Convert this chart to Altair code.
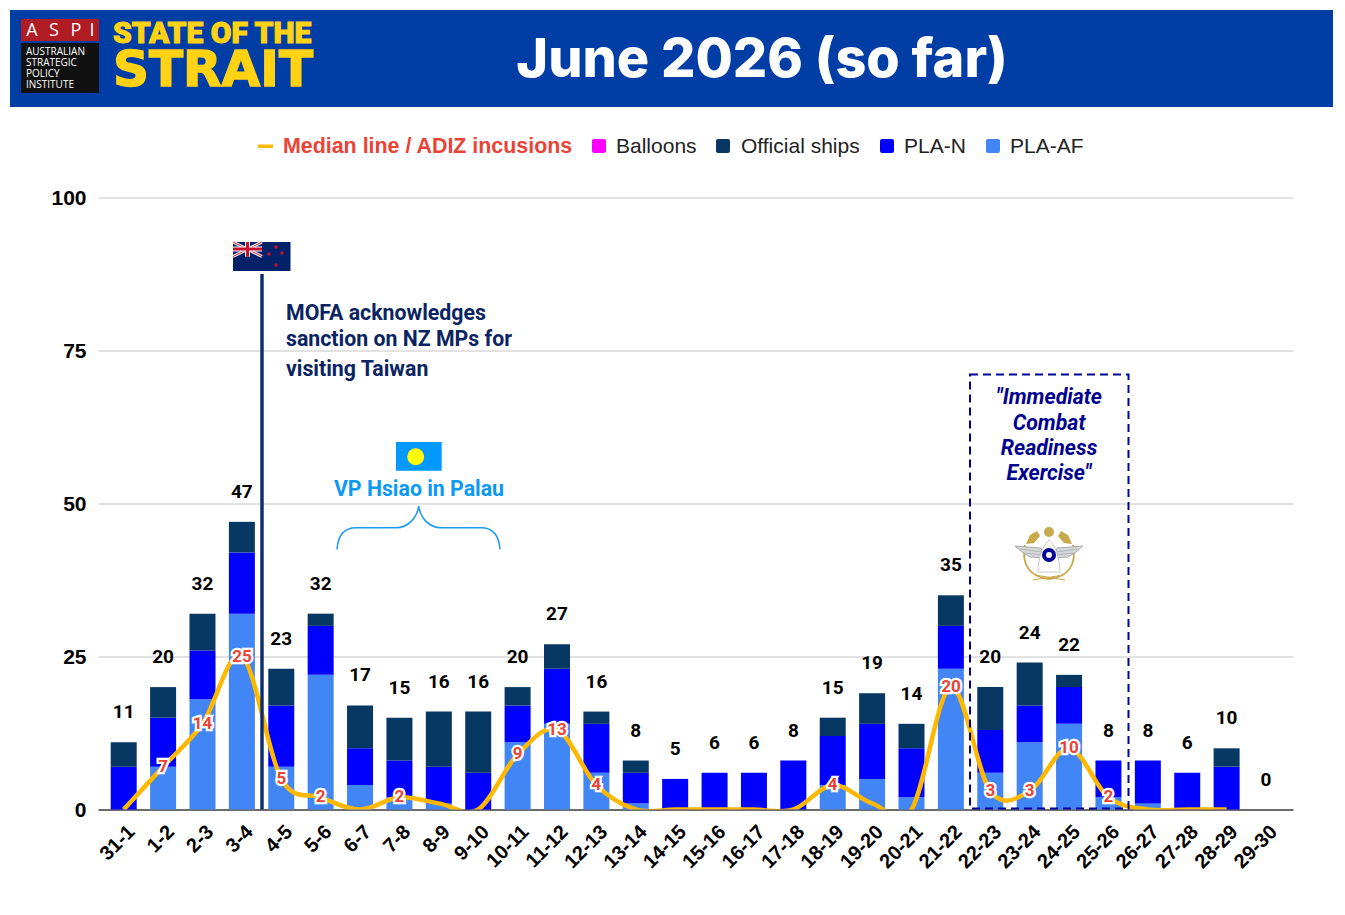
import altair as alt
import pandas as pd

CATEGORIES = ["31-1","1-2","2-3","3-4","4-5","5-6","6-7","7-8","8-9","9-10","10-11","11-12","12-13","13-14","14-15",
              "15-16","16-17","17-18","18-19","19-20","20-21","21-22","22-23","23-24","24-25","25-26","26-27","27-28","28-29","29-30"]
PLA_AF   = [0,7,18,32,7,22,4,2,1,0,11,14,6,1,0,0,0,0,4,5,2,23,6,11,14,2,1,0,0,0]
PLA_N    = [7,8,8,10,10,8,6,6,6,6,6,9,8,5,5,6,6,8,8,9,8,7,7,6,6,6,7,6,7,0]
OFFICIAL = [4,5,6,5,6,2,7,7,9,10,3,4,2,2,0,0,0,0,3,5,4,5,7,7,2,0,0,0,3,0]
TOTALS   = [11,20,32,47,23,32,17,15,16,16,20,27,16,8,5,6,6,8,15,19,14,35,20,24,22,8,8,6,10,0]
MEDIAN   = [0,7,14,25,5,2,0,2,1,0,9,13,4,0,0,0,0,0,4,1,0,20,3,3,10,2,0,0,0]

SERIES_COLORS = {"PLA-AF":"#4285F4","PLA-N":"#0000FF","Official ships":"#073763","Balloons":"#FF00FF"}
LINE_COLOR = "#FFB800"
RED = "#EA4335"
FONT = "Roboto"
SANS = "Liberation Sans"

OX, OY = 98, 197.5
W, H = 1195, 612
one = pd.DataFrame({"a":[0]})

def X(v): return alt.value(v-OX)
def Y(v): return alt.value(v-OY)

def text(s, x, y, size, color, font=FONT, weight="bold", align="left", style=None, stroke=None, sw=None):
    kw = dict(text=s, fontSize=size, color=color, font=font, fontWeight=weight, align=align, baseline="middle")
    if style: kw["fontStyle"] = style
    if stroke: kw.update(stroke=stroke, strokeWidth=sw)
    return alt.Chart(one).mark_text(**kw).encode(x=X(x), y=Y(y+1))

def rect(x1, y1, x2, y2, color, **kw):
    return alt.Chart(one).mark_rect(color=color, **kw).encode(x=X(x1), x2=X(x2), y=Y(y1), y2=Y(y2))

def dot(x, y, d, color):
    return alt.Chart(one).mark_point(shape="circle", size=d*d, filled=True, fill=color, opacity=1, strokeWidth=0).encode(x=X(x), y=Y(y))

def path(d, stroke=None, fill=None, sw=1.5):
    kw = dict(shape=d, size=4, opacity=1)
    if fill:
        kw.update(filled=True, fill=fill)
    else:
        kw.update(filled=False)
    if stroke:
        kw.update(stroke=stroke, strokeWidth=sw)
    else:
        kw.update(strokeWidth=0)
    return alt.Chart(one).mark_point(**kw).encode(x=alt.value(-OX), y=alt.value(-OY))

rows = []
for name, vals, rk in [("PLA-AF",PLA_AF,1),("PLA-N",PLA_N,2),("Official ships",OFFICIAL,3)]:
    for c, v in zip(CATEGORIES, vals):
        rows.append({"cat":c,"series":name,"value":v,"rk":rk})
long_df = pd.DataFrame(rows)
tot_df = pd.DataFrame({"cat":CATEGORIES,"total":TOTALS})
med_df = pd.DataFrame({"cat":CATEGORIES[:len(MEDIAN)],"median":MEDIAN})
lab_df = med_df[med_df["median"]>=2]

xscale = alt.Scale(domain=CATEGORIES, paddingInner=0.34, paddingOuter=0.339, align=0.476)
yscale = alt.Scale(domain=[0,100], nice=False)
xenc = alt.X("cat:N", sort=CATEGORIES, scale=xscale, title=None,
             axis=alt.Axis(labelAngle=-45, labelAlign="right", labelBaseline="middle", labelFontSize=20, labelFontWeight="bold",
                           labelFont=SANS, labelColor="#000000", labelPadding=19, labelOffset=8, ticks=False, grid=False,
                           domainColor="#444444", domainWidth=1.5, labelOverlap=False))

bars = alt.Chart(long_df).mark_bar().encode(
    x=xenc,
    y=alt.Y("value:Q", stack="zero", scale=yscale, title=None,
            axis=alt.Axis(values=[0,25,50,75,100], gridColor="#d9d9d9", gridWidth=1.3, ticks=False, domain=False,
                          labelFontSize=21, labelFontWeight="bold", labelFont=SANS, labelColor="#000000", labelPadding=12, labelOffset=0.5)),
    color=alt.Color("series:N", scale=alt.Scale(domain=list(SERIES_COLORS), range=list(SERIES_COLORS.values())), legend=None),
    order=alt.Order("rk:Q"),
)
xn = alt.X("cat:N", sort=CATEGORIES, scale=xscale, title=None)
yn = lambda f: alt.Y(f, scale=yscale, title=None)

line = alt.Chart(med_df).mark_line(color=LINE_COLOR, strokeWidth=4.5, interpolate="cardinal", clip=True).encode(x=xn, y=yn("median:Q"))
halo = alt.Chart(lab_df).mark_text(font=FONT, fontWeight="bold", fontSize=17, color="white", stroke="white", strokeWidth=4.5,
                                   baseline="middle").encode(x=xn, y=yn("median:Q"), text="median:Q")
lab = alt.Chart(lab_df).mark_text(font=FONT, fontWeight="bold", fontSize=17, color=RED,
                                  baseline="middle").encode(x=xn, y=yn("median:Q"), text="median:Q")
tot = alt.Chart(tot_df).mark_text(font=FONT, fontWeight="bold", fontSize=19, color="#000000", dy=-30,
                                  baseline="middle").encode(x=xn, y=yn("total:Q"), text="total:Q")

layers = [bars, line, halo, lab, tot]

# header band
layers += [rect(10,10,1333,107,"#003DA5")]
layers += [rect(21,19,99,41,"#B01C24"), rect(21,43,99,93,"#111111")]
LOGO_ASPI = [("A",32),("S",54),("P",76),("I",92)]
for ch, lx in LOGO_ASPI:
    layers.append(text(ch, lx, 30, 18, "white", font="Open Sans", weight="normal", align="center"))
LOGO_LINES = ["AUSTRALIAN","STRATEGIC","POLICY","INSTITUTE"]
for s, ly in zip(LOGO_LINES, [51,62,73,84]):
    layers.append(text(s, 26, ly, 10, "white", font="Open Sans", weight="normal"))
layers.append(text("STATE OF THE", 113, 33, 30, "#FFD314", font="Roboto", weight=900, stroke="#FFD314", sw=1))
layers.append(text("STRAIT", 113, 70, 50, "#FFD314", font="DejaVu Sans", stroke="#FFD314", sw=1.5))
layers.append(text("June 2026 (so far)", 762, 60, 54, "white", font="Inter", weight=800, align="center"))

# legend
layers.append(rect(258,144.5,273,148,LINE_COLOR))
layers.append(text("Median line / ADIZ incusions", 283, 146, 21.4, RED, font=SANS))
LEGEND = [("Balloons",592,616),("Official ships",716,741),("PLA-N",880,904),("PLA-AF",986,1010)]
for name, sx, tx in LEGEND:
    layers.append(rect(sx,139,sx+14,153,SERIES_COLORS[name],cornerRadius=2))
    layers.append(text(name, tx, 146, 21, "#222222", font=SANS, weight="normal"))

# NZ annotation
NAVY = "#012169"
layers.append(rect(233,242,290.5,271,NAVY))
layers.append(path("M233,242L262,256.5M262,242L233,256.5", stroke="white", sw=3))
layers.append(path("M233,242L262,256.5M262,242L233,256.5", stroke="#C8102E", sw=1))
layers.append(path("M247.5,242V256.5M233,249H262", stroke="white", sw=5))
layers.append(path("M247.5,242V256.5M233,249H262", stroke="#C8102E", sw=3))
for sx, sy in [(276,247),(269,254),(282,253),(276,265)]:
    layers.append(dot(sx, sy, 3.5, "#C8102E"))
layers.append(rect(260.3,274,263.7,809.5,"#0A2A6E"))
for s, ly in zip(["MOFA acknowledges","sanction on NZ MPs for","visiting Taiwan"],[312.5,338.5,368.5]):
    layers.append(text(s, 286, ly, 21.3, "#0A2463"))

# Palau annotation
layers.append(rect(396,442,441.7,470.7,"#0099FF"))
layers.append(dot(415.7,456.7,17,"#FFFF00"))
layers.append(text("VP Hsiao in Palau", 419, 488.5, 21.3, "#0C99F5", align="center"))
layers.append(path("M337,549.5C338,535 345,527.7 356,527.7L396,527.7C408,527.7 417,518 418.7,506C420.5,518 429,527.7 441,527.7L481,527.7C492,527.7 499,535 500,549.5",
                   stroke="#1A9AF0", sw=1.5))

# exercise annotation
layers.append(alt.Chart(one).mark_rect(fillOpacity=0, stroke="#000099", strokeWidth=2, strokeDash=[8,5]).encode(
    x=X(970), x2=X(1128.5), y=Y(374.5), y2=Y(808.5)))
for s, ly in zip(['"Immediate','Combat','Readiness','Exercise"'],[396.5,422.5,447.5,472.5]):
    layers.append(text(s, 1049, ly, 21.3, "#000090", align="center", style="italic"))

# emblem
GOLD = "#C9A94E"
layers.append(path("M1049,579C1030,577 1021,565 1025,545M1049,579C1068,577 1077,565 1073,545", stroke=GOLD, sw=1.8))
layers.append(path("M1033,580L1063,575M1065,580L1035,575", stroke=GOLD, sw=1.2))
layers.append(path("M1026,544L1030,535L1037,531L1040,536L1034,543Z M1072,544L1068,535L1061,531L1058,536L1064,543Z", fill=GOLD))
layers.append(dot(1049,532,10,GOLD))
layers.append(path("M1015,546L1041,548L1045,558L1030,557L1022,552Z M1083,546L1057,548L1053,558L1068,557L1076,552Z", stroke="#9A9A9A", fill="#D5D7D9", sw=0.8))
layers.append(path("M1020,549L1042,552M1025,553L1043,555M1078,549L1056,552M1073,553L1055,555", stroke="#9A9A9A", sw=0.6))
layers.append(path("M1049,540C1056,546 1060,560 1060,572H1038C1038,560 1042,546 1049,540Z", stroke="#BDBDBD", fill="#FFFFFF", sw=0.8))
layers.append(dot(1049,555,14,"#000099"))
layers.append(dot(1049,555,6,"#FFFFFF"))

chart = alt.layer(*layers).properties(
    width=W, height=H,
    autosize=alt.AutoSizeParams(type="none"),
    padding={"left":OX-8,"top":OY-8,"right":44,"bottom":90},
    background="white",
).configure_view(stroke=None)

chart.save("out.html", embed_options={"renderer": "svg", "actions": False})
